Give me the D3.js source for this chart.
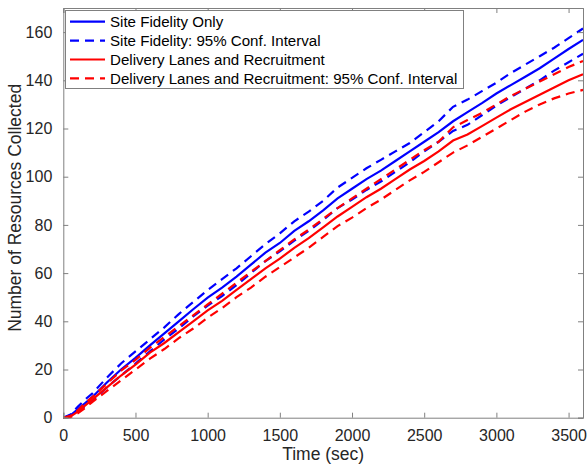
<!DOCTYPE html>
<html>
<head>
<meta charset="utf-8">
<script src="https://cdn.jsdelivr.net/npm/d3@7"></script>
<style>
  body { margin: 0; background: #fff; }
  text { font-family: "Liberation Sans", Arial, Helvetica, sans-serif; }
</style>
</head>
<body>
<div id="chart"></div>
<script>
// time points (sec)
var timeSec = [0, 50, 100, 150, 200, 300, 400, 500, 600, 700, 800, 900, 1000, 1100, 1200,
  1300, 1400, 1500, 1600, 1700, 1800, 1900, 2000, 2100, 2200, 2300, 2400, 2500, 2600,
  2700, 2800, 2900, 3000, 3100, 3200, 3300, 3400, 3500, 3600];

// Site Fidelity Only: mean, upper and lower 95% bound
var sfMean = [0, 1, 3.5, 6, 8.5, 14.5, 20, 24.8, 30, 35, 40, 45, 49.8, 54, 58.5,
  63.5, 68.5, 72.5, 77.5, 81.5, 86, 91, 95, 99, 102.5, 106.5, 110.5, 114.5, 118.5,
  123, 126.8, 130.5, 134.5, 138, 141.5, 145, 149, 153, 156.8];
var sfUpper = [0, 1.3, 4.5, 7.5, 10, 16.5, 22.5, 27.5, 32.5, 37.5, 43, 48, 53, 57.5, 62,
  67, 72, 76.5, 81.5, 85.5, 90, 95.5, 99.5, 103.5, 107, 110.5, 114, 118.5, 123,
  129, 132, 135.5, 139, 143, 146.5, 150, 153.5, 157.5, 161.5];
var sfLower = [0, 0.7, 2.5, 4.5, 7, 12.5, 17.5, 22.5, 27.5, 32.5, 37, 42, 46.5, 50.5, 55,
  60, 65, 69, 73.5, 77.5, 82, 87, 90.5, 94.5, 98, 102, 106, 110.5, 114.5,
  119, 121.5, 125.5, 129.5, 133, 136.5, 140, 144, 147.5, 151];

// Delivery Lanes and Recruitment
var dlMean = [0, 0.5, 2.5, 5, 7.5, 12.5, 17.5, 22, 27, 31, 35.5, 40, 44.5, 48.5, 53,
  57.5, 62, 66, 70.5, 74.5, 79, 83.5, 87.5, 91.5, 95, 99, 103, 106.5, 110.5,
  115, 117.5, 121, 124.5, 128, 131, 134, 137, 140, 142.5];
var dlUpper = [0, 0.8, 3, 6, 8.5, 14, 19.5, 24, 29, 33.5, 38, 42.5, 47, 51.5, 56,
  60.5, 65, 69.5, 74, 78, 82.5, 87, 91, 95, 99, 103, 107, 111, 114.5,
  120.5, 123.5, 126.5, 130, 133.5, 136.5, 139.5, 142.5, 145.5, 148];
var dlLower = [0, 0.2, 1.8, 4, 6.5, 11, 15.5, 20, 24.5, 28.5, 33, 37, 41.5, 45.5, 50,
  54, 58.5, 62.5, 66.5, 70.5, 75, 79.5, 83, 87, 90.5, 94.5, 98.5, 102, 106,
  110, 113, 116.5, 120, 123.5, 127, 130, 132.5, 134.5, 136];

var xTicks = [0, 500, 1000, 1500, 2000, 2500, 3000, 3500];
var yTicks = [0, 20, 40, 60, 80, 100, 120, 140, 160];

var seriesNames = ["Site Fidelity Only", "Site Fidelity: 95% Conf. Interval",
  "Delivery Lanes and Recruitment", "Delivery Lanes and Recruitment: 95% Conf. Interval"];

var svgWidth = 587;
var svgHeight = 468;
var margin = { top: 8, right: 4, bottom: 50.3, left: 63.3 };
var width = svgWidth - margin.left - margin.right;
var height = svgHeight - margin.top - margin.bottom;

var axisColor = "#808080";
var textColor = "#262626";

var svg = d3.select("#chart")
  .append("svg")
  .attr("width", svgWidth)
  .attr("height", svgHeight);

var chartGroup = svg.append("g")
  .attr("transform", `translate(${margin.left}, ${margin.top})`);

var xScale = d3.scaleLinear().domain([0, 3600]).range([0, width]);
var yScale = d3.scaleLinear().domain([0, 170]).range([height, 0]);

// lines
var lines = [
  { values: sfUpper, color: "#0000ff", dash: "9,6" },
  { values: sfLower, color: "#0000ff", dash: "9,6" },
  { values: sfMean, color: "#0000ff", dash: null },
  { values: dlUpper, color: "#ff0000", dash: "9,6" },
  { values: dlLower, color: "#ff0000", dash: "9,6" },
  { values: dlMean, color: "#ff0000", dash: null }
];

var lineGen = d3.line()
  .x((d, i) => xScale(timeSec[i]))
  .y(d => yScale(d));

var plot = chartGroup.append("g");
plot.selectAll("path")
  .data(lines)
  .enter()
  .append("path")
    .attr("d", d => lineGen(d.values))
    .attr("fill", "none")
    .attr("stroke", d => d.color)
    .attr("stroke-width", 2.2)
    .attr("stroke-dasharray", d => d.dash);

// axes (inward ticks, box on all four sides)
var bottomAxis = d3.axisBottom(xScale).tickValues(xTicks).tickSize(-5).tickPadding(12).tickFormat(d3.format("d"));
var leftAxis = d3.axisLeft(yScale).tickValues(yTicks).tickSize(-5).tickPadding(11).tickFormat(d3.format("d"));
var topAxis = d3.axisTop(xScale).tickValues(xTicks).tickSize(-5).tickFormat("");
var rightAxis = d3.axisRight(yScale).tickValues(yTicks).tickSize(-5).tickFormat("");

chartGroup.append("g").attr("transform", `translate(0, ${height})`).call(bottomAxis);
chartGroup.append("g").call(leftAxis);
chartGroup.append("g").call(topAxis);
chartGroup.append("g").attr("transform", `translate(${width}, 0)`).call(rightAxis);

chartGroup.selectAll(".domain").attr("stroke", axisColor);
chartGroup.selectAll(".tick line").attr("stroke", axisColor);
chartGroup.selectAll(".tick text")
  .attr("fill", textColor)
  .style("font-size", "16px");

// axis labels
svg.append("text")
  .attr("text-anchor", "middle")
  .attr("x", margin.left + width / 2)
  .attr("y", 460)
  .style("font-size", "17.5px")
  .attr("fill", textColor)
  .text("Time (sec)");

svg.append("text")
  .attr("text-anchor", "middle")
  .attr("transform", "rotate(-90)")
  .attr("x", -(margin.top + height / 2) + 5)
  .attr("y", 21)
  .style("font-size", "17.5px")
  .attr("fill", textColor)
  .text("Number of Resources Collected");

// legend
var legend = svg.append("g").attr("transform", "translate(65.5, 10.5)");
legend.append("rect")
  .attr("width", 398)
  .attr("height", 78)
  .attr("fill", "#fff")
  .attr("stroke", axisColor);

var legendItems = [
  { color: "#0000ff", dash: null },
  { color: "#0000ff", dash: "9,6" },
  { color: "#ff0000", dash: null },
  { color: "#ff0000", dash: "9,6" }
];

var rows = legend.selectAll(".row")
  .data(legendItems)
  .enter()
  .append("g")
    .attr("transform", (d, i) => `translate(0, ${11.2 + i * 18.9})`);

rows.append("line")
  .attr("x1", 4.5).attr("x2", 39.5)
  .attr("stroke", d => d.color)
  .attr("stroke-width", 2.2)
  .attr("stroke-dasharray", d => d.dash);

rows.append("text")
  .attr("x", 44.5)
  .attr("dy", "0.35em")
  .style("font-size", "15.1px")
  .attr("fill", "#000")
  .text((d, i) => seriesNames[i]);
</script>
</body>
</html>
